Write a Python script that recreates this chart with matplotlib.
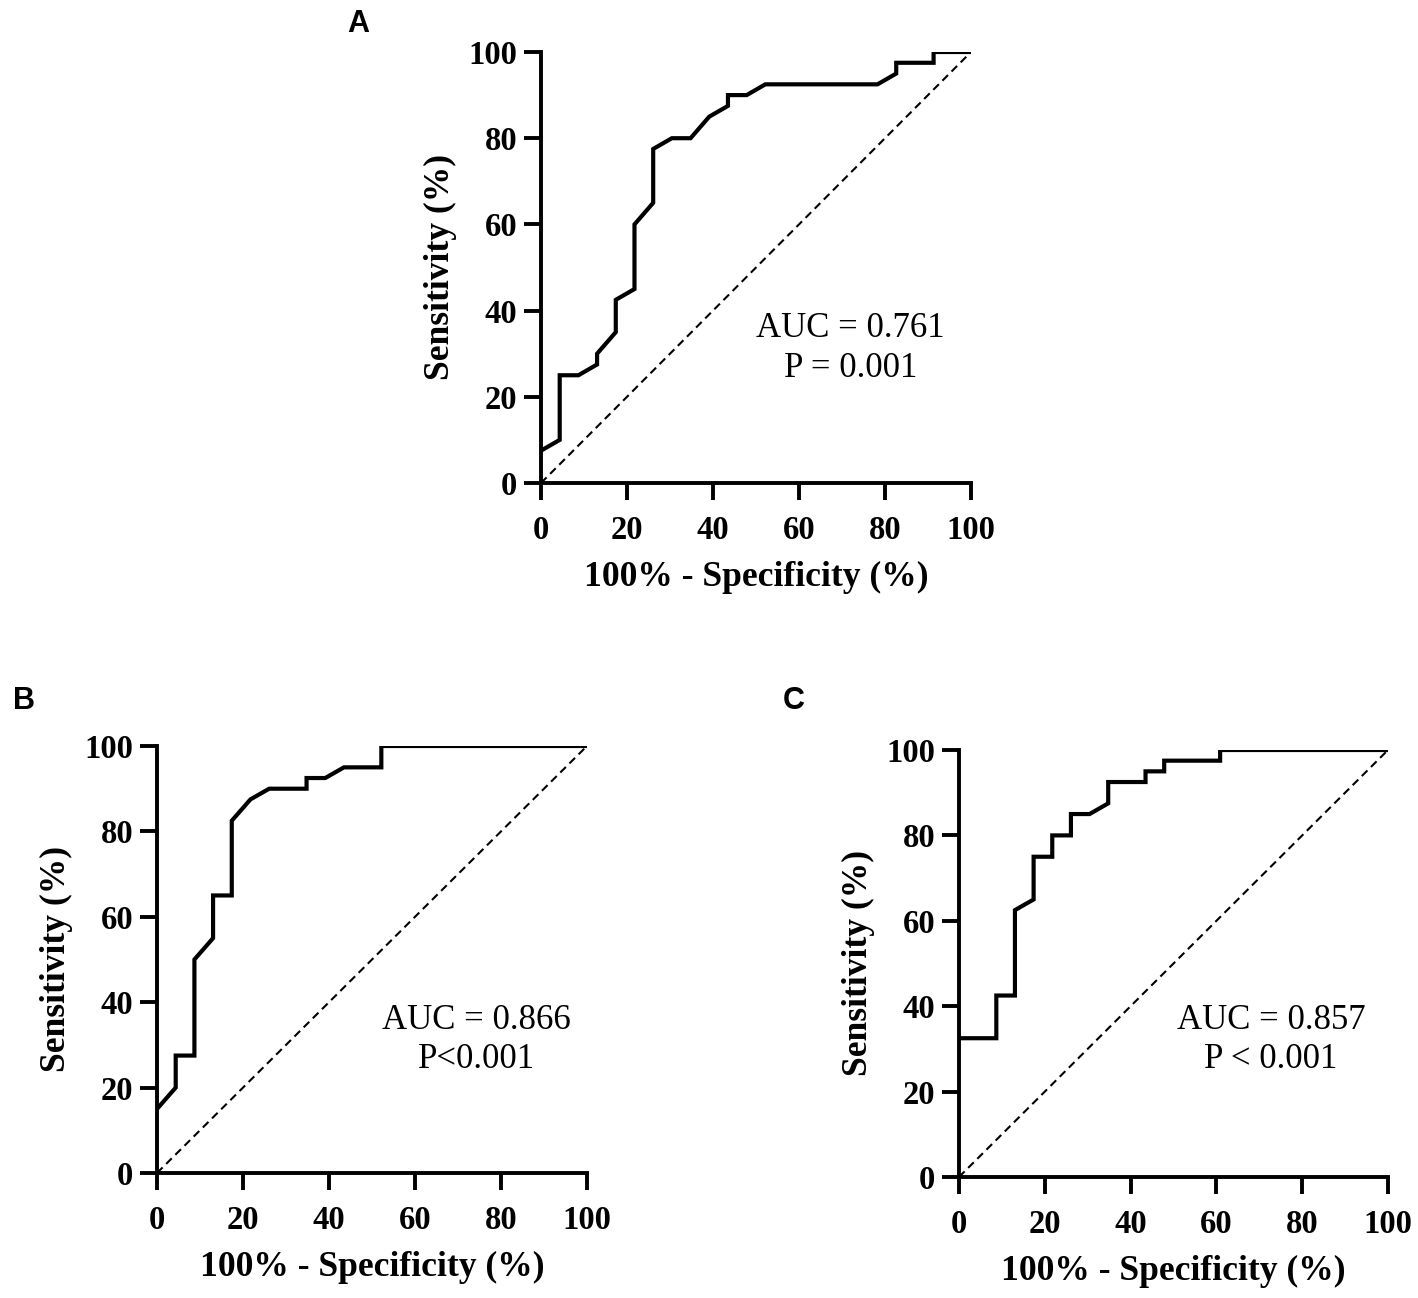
import matplotlib
matplotlib.use("Agg")
import matplotlib.pyplot as plt

# ---- data (percent) ----
a_fpr = [0, 4.35, 4.35, 8.70, 13.04, 13.04, 17.39, 17.39, 21.74, 21.74, 26.09, 26.09,
         30.43, 34.78, 39.13, 43.48, 43.48, 47.83, 52.17, 78.26, 82.61, 82.61, 91.30, 91.30, 100]
a_tpr = [7.5, 10, 25, 25, 27.5, 30, 35, 42.5, 45, 60, 65, 77.5,
         80, 80, 85, 87.5, 90, 90, 92.5, 92.5, 95, 97.5, 97.5, 100, 100]

b_fpr = [0, 4.35, 4.35, 8.70, 8.70, 13.04, 13.04, 17.39, 17.39, 21.74, 26.09, 34.78,
         34.78, 39.13, 43.48, 52.17, 52.17, 100]
b_tpr = [15, 20, 27.5, 27.5, 50, 55, 65, 65, 82.5, 87.5, 90, 90,
         92.5, 92.5, 95, 95, 100, 100]

c_fpr = [0, 8.70, 8.70, 13.04, 13.04, 17.39, 17.39, 21.74, 21.74, 26.09, 26.09, 30.43,
         34.78, 34.78, 43.48, 43.48, 47.83, 47.83, 60.87, 60.87, 100]
c_tpr = [32.5, 32.5, 42.5, 42.5, 62.5, 65, 75, 75, 80, 80, 85, 85,
         87.5, 92.5, 92.5, 95, 95, 97.5, 97.5, 100, 100]

ticks = [0, 20, 40, 60, 80, 100]
panel_letters = ["A", "B", "C"]
annotations = ["AUC = 0.761\nP = 0.001", "AUC = 0.866\nP<0.001", "AUC = 0.857\nP < 0.001"]
annot_pos = [(72, 31.2), (74.2, 31.2), (72.7, 32.1)]
xlabel = "100% - Specificity (%)"
ylabel = "Sensitivity (%)"

W, H = 1418, 1298
DPI = 100
fig = plt.figure(figsize=(W / DPI, H / DPI), dpi=DPI)
fig.patch.set_facecolor("white")

serif = ["Liberation Serif", "DejaVu Serif"]

# axes boxes in pixels: left, right, top, bottom
boxes = [(541, 971, 52, 483), (157, 587, 746, 1173), (959, 1388, 750, 1177)]
letters_px = [(347, 32), (13, 709), (783, 709)]
curves = [(a_fpr, a_tpr), (b_fpr, b_tpr), (c_fpr, c_tpr)]

for i, ((l, r, t, b), (fx, ty)) in enumerate(zip(boxes, curves)):
    ax = fig.add_axes([l / W, (H - b) / H, (r - l) / W, (b - t) / H])
    ax.plot(fx, ty, color="black", lw=3.0, solid_joinstyle="miter", clip_on=True)
    ax.plot([0, 100], [0, 100], color="black", lw=1.5, ls=(0, (3.8, 2.4)))
    ax.set_xlim(0, 100)
    ax.set_ylim(0, 100)
    ax.set_xticks(ticks)
    ax.set_yticks(ticks)
    for s in ["top", "right"]:
        ax.spines[s].set_visible(False)
    for s in ["left", "bottom"]:
        ax.spines[s].set_linewidth(2.8)
    ax.tick_params(direction="out", length=12, width=2.8, pad=5, color="black")
    ax.tick_params(axis="x", pad=11)
    for lab in ax.get_xticklabels() + ax.get_yticklabels():
        lab.set_fontfamily(serif)
        lab.set_fontweight("bold")
        lab.set_fontsize(23.5)
    w_px = r - l
    h_px = b - t
    ax.set_xlabel(xlabel, fontfamily=serif, fontweight="bold", fontsize=25.6, va="center")
    ax.xaxis.set_label_coords(0.5, -94 / h_px)
    ax.set_ylabel(ylabel, fontfamily=serif, fontweight="bold", fontsize=25.6, va="center", ha="center")
    ax.yaxis.set_label_coords(-101 / w_px, 0.5)
    axp, ayp = annot_pos[i]
    ax.text(axp, ayp, annotations[i], fontfamily=serif, fontsize=25, ha="center", va="center",
            multialignment="center", linespacing=1.25)
    lx, ly = letters_px[i]
    fig.text(lx / W, (H - ly) / H, panel_letters[i], fontfamily=["Liberation Sans", "DejaVu Sans"],
             fontweight="bold", fontsize=22, ha="left", va="baseline")

fig.savefig("out.png", dpi=DPI, facecolor="white")
